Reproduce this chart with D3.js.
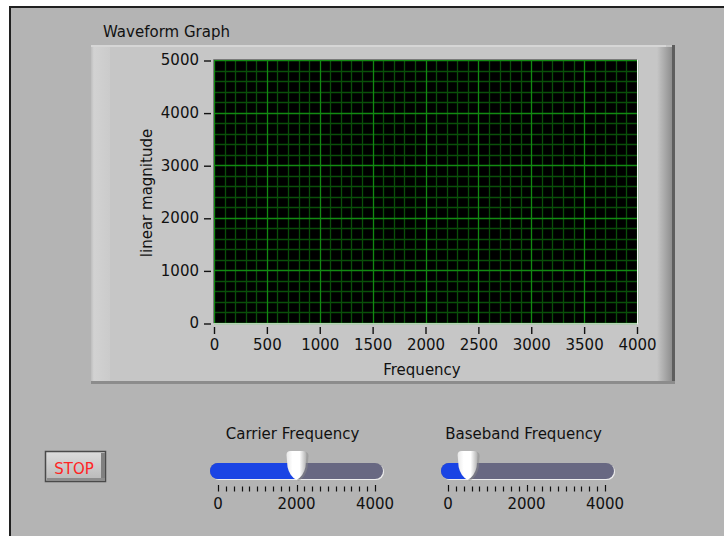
<!DOCTYPE html>
<html>
<head>
<meta charset="utf-8">
<script src="https://cdn.jsdelivr.net/npm/d3@7"></script>
<style>
  html, body { margin: 0; padding: 0; background: #fff; }
  svg { display: block; }
  text { font-family: "DejaVu Sans", sans-serif; font-size: 15px; fill: #111; }
</style>
</head>
<body>
<div id="panel"></div>
<script>
// graph axes
var xDomain = [0, 4000]
var yDomain = [0, 5000]
var xTicks = [0, 500, 1000, 1500, 2000, 2500, 3000, 3500, 4000]
var yTicks = [0, 1000, 2000, 3000, 4000, 5000]
var xMinorStep = 100
var yMinorStep = 200
var graphTitle = "Waveform Graph"
var xLabel = "Frequency"
var yLabel = "linear magnitude"

// sliders
var sliderNames = ["Carrier Frequency", "Baseband Frequency"]
var sliderValues = [2000, 500]
var sliderDomain = [0, 4000]
var sliderLabels = [0, 2000, 4000]
var sliderMinorStep = 200
var stopText = "STOP"

var W = 724, H = 536
var svg = d3.select("#panel").append("svg")
	.attr("width", W)
	.attr("height", H)
var defs = svg.append("defs")

// panel background + border
svg.append("rect").attr("x", 9).attr("y", 6).attr("width", W).attr("height", H).style("fill", "#202020")
svg.append("rect").attr("x", 11).attr("y", 8).attr("width", W).attr("height", H).style("fill", "#b4b4b4")

//graph frame
var rg = defs.append("linearGradient").attr("id", "frameRight")
	.attr("x1", "0%").attr("x2", "100%").attr("y1", "0%").attr("y2", "0%")
rg.append("stop").attr("offset", "0%").attr("stop-color", "#c6c6c6")
rg.append("stop").attr("offset", "100%").attr("stop-color", "#8e8e8e")
var lg = defs.append("linearGradient").attr("id", "frameLeft")
	.attr("x1", "0%").attr("x2", "100%").attr("y1", "0%").attr("y2", "0%")
lg.append("stop").attr("offset", "0%").attr("stop-color", "#bdbdbd")
lg.append("stop").attr("offset", "15%").attr("stop-color", "#d2d2d2")
lg.append("stop").attr("offset", "100%").attr("stop-color", "#cbcbcb")

var frame = svg.append("g")
frame.append("rect").attr("x", 91).attr("y", 45).attr("width", 584).attr("height", 339).style("fill", "#c6c6c6")
frame.append("rect").attr("x", 91).attr("y", 45).attr("width", 19).attr("height", 337).style("fill", "url(#frameLeft)")
frame.append("rect").attr("x", 91).attr("y", 45).attr("width", 575).attr("height", 2).style("fill", "#d6d6d6")
frame.append("rect").attr("x", 657).attr("y", 47).attr("width", 15).attr("height", 335).style("fill", "url(#frameRight)")
frame.append("rect").attr("x", 672).attr("y", 45).attr("width", 3).attr("height", 339).style("fill", "#5e5e5e")
frame.append("rect").attr("x", 91).attr("y", 381).attr("width", 584).attr("height", 3).style("fill", "#8c8c8c")

svg.append("text").attr("x", 103).attr("y", 37).text(graphTitle)

// plot area
var x = d3.scaleLinear().domain(xDomain).range([214, 637])
var y = d3.scaleLinear().domain(yDomain).range([323, 60])

var plot = svg.append("g")
plot.append("rect")
	.attr("x", x(xDomain[0])).attr("y", y(yDomain[1]))
	.attr("width", x(xDomain[1]) - x(xDomain[0]))
	.attr("height", y(yDomain[0]) - y(yDomain[1]))
	.style("fill", "#000")

var xMinor = d3.range(xDomain[0], xDomain[1] + 1, xMinorStep).filter(function (d) { return xTicks.indexOf(d) < 0 })
var yMinor = d3.range(yDomain[0], yDomain[1] + 1, yMinorStep).filter(function (d) { return yTicks.indexOf(d) < 0 })

plot.selectAll(".xminor").data(xMinor).enter().append("line")
	.attr("x1", function (d) { return Math.round(x(d)) + 0.5 })
	.attr("x2", function (d) { return Math.round(x(d)) + 0.5 })
	.attr("y1", y(yDomain[1])).attr("y2", y(yDomain[0]))
	.style("stroke", "#0a4f0a").style("stroke-width", 1.3)
plot.selectAll(".yminor").data(yMinor).enter().append("line")
	.attr("y1", function (d) { return Math.round(y(d)) + 0.5 })
	.attr("y2", function (d) { return Math.round(y(d)) + 0.5 })
	.attr("x1", x(xDomain[0])).attr("x2", x(xDomain[1]))
	.style("stroke", "#0a4f0a").style("stroke-width", 1.3)
plot.selectAll(".xmajor").data(xTicks).enter().append("line")
	.attr("x1", function (d) { return Math.round(x(d)) + 0.5 })
	.attr("x2", function (d) { return Math.round(x(d)) + 0.5 })
	.attr("y1", y(yDomain[1])).attr("y2", y(yDomain[0]))
	.style("stroke", "#128a12").style("stroke-width", 1.3)
plot.selectAll(".ymajor").data(yTicks).enter().append("line")
	.attr("y1", function (d) { return Math.round(y(d)) + 0.5 })
	.attr("y2", function (d) { return Math.round(y(d)) + 0.5 })
	.attr("x1", x(xDomain[0])).attr("x2", x(xDomain[1]))
	.style("stroke", "#128a12").style("stroke-width", 1.3)

// inset border of the plot
plot.append("line").attr("x1", 213.5).attr("x2", 213.5).attr("y1", 59.5).attr("y2", 323.5).style("stroke", "#7a7a7a")
plot.append("line").attr("x1", 213.5).attr("x2", 637.5).attr("y1", 59.5).attr("y2", 59.5).style("stroke", "#7a7a7a")
plot.append("line").attr("x1", 637.5).attr("x2", 637.5).attr("y1", 59.5).attr("y2", 324).style("stroke", "#f4f4f4")
plot.append("line").attr("x1", 213.5).attr("x2", 638).attr("y1", 323.8).attr("y2", 323.8).style("stroke", "#f4f4f4")

// axes
var xAxis = svg.append("g")
	.attr("transform", "translate(0,327)")
	.call(d3.axisBottom(x).tickValues(xTicks).tickSize(7).tickPadding(5).tickFormat(d3.format("d")))
var yAxis = svg.append("g")
	.attr("transform", "translate(211,0)")
	.call(d3.axisLeft(y).tickValues(yTicks).tickSize(7).tickPadding(5).tickFormat(d3.format("d")))
svg.selectAll(".domain").remove()
svg.selectAll(".tick line").style("stroke", "#111").style("stroke-width", 1.4)
svg.selectAll(".tick text").style("font-family", "DejaVu Sans").style("font-size", "15px").style("fill", "#111")
yAxis.selectAll(".tick line").attr("transform", "translate(0,0.5)")

svg.append("text").attr("x", 422).attr("y", 375).style("text-anchor", "middle").text(xLabel)
svg.append("text").attr("transform", "translate(152,193) rotate(-90)").style("text-anchor", "middle").text(yLabel)

// sliders
var thumbGrad = defs.append("linearGradient").attr("id", "thumbGrad")
	.attr("x1", "0%").attr("x2", "100%").attr("y1", "0%").attr("y2", "0%")
thumbGrad.append("stop").attr("offset", "0%").attr("stop-color", "#e8e8e8")
thumbGrad.append("stop").attr("offset", "30%").attr("stop-color", "#ffffff")
thumbGrad.append("stop").attr("offset", "65%").attr("stop-color", "#ffffff")
thumbGrad.append("stop").attr("offset", "100%").attr("stop-color", "#b0b0b0")

var sliderLeft = [210, 441]
var scaleStart = [218, 448]
var scaleWidth = 157
var trackWidth = 173

sliderNames.forEach(function (name, i) {
	var s = d3.scaleLinear().domain(sliderDomain).range([scaleStart[i], scaleStart[i] + scaleWidth])
	var g = svg.append("g")
	var cx = s(sliderValues[i])
	var tx = sliderLeft[i]

	g.append("text").attr("x", tx + trackWidth / 2 - 4).attr("y", 439).style("text-anchor", "middle").text(name)

	defs.append("clipPath").attr("id", "fillClip" + i)
		.append("rect").attr("x", tx).attr("y", 455).attr("width", cx - tx).attr("height", 30)

	g.append("rect").attr("x", tx + 1).attr("y", 464).attr("width", trackWidth).attr("height", 16)
		.attr("rx", 8).style("fill", "#eeeeee")
	g.append("rect").attr("x", tx).attr("y", 463).attr("width", trackWidth).attr("height", 16)
		.attr("rx", 8).style("fill", "#686882")
	g.append("rect").attr("x", tx).attr("y", 463).attr("width", trackWidth).attr("height", 16)
		.attr("rx", 8).style("fill", "#1a44e4").attr("clip-path", "url(#fillClip" + i + ")")

	// thumb
	var thumb = "M" + (cx - 10) + ",455 Q" + (cx - 10) + ",451 " + (cx - 6) + ",451 L" + (cx + 6) + ",451 Q" + (cx + 10) + ",451 " + (cx + 10) + ",455 L" + (cx + 9) + ",467 Q" + (cx + 7) + ",476 " + cx + ",480 Q" + (cx - 7) + ",476 " + (cx - 9) + ",467 Z"
	g.append("path").attr("d", thumb).attr("transform", "translate(2,1)").style("fill", "#8a8a8a").style("opacity", 0.5)
	g.append("path").attr("d", thumb).style("fill", "url(#thumbGrad)")

	// scale
	var minor = d3.range(sliderDomain[0], sliderDomain[1] + 1, sliderMinorStep)
	g.selectAll(".stick").data(minor).enter().append("line")
		.attr("x1", function (d) { return Math.round(s(d)) + 0.5 })
		.attr("x2", function (d) { return Math.round(s(d)) + 0.5 })
		.attr("y1", function (d) { return sliderLabels.indexOf(d) >= 0 ? 485 : 486.5 })
		.attr("y2", 491.5)
		.style("stroke", "#111").style("stroke-width", 1.2)
	g.selectAll(".slab").data(sliderLabels).enter().append("text")
		.attr("x", function (d) { return s(d) })
		.attr("y", 509)
		.style("text-anchor", "middle")
		.text(function (d) { return d })
})

// stop button
var btnGrad = defs.append("linearGradient").attr("id", "btnGrad")
	.attr("x1", "0%").attr("x2", "0%").attr("y1", "0%").attr("y2", "100%")
btnGrad.append("stop").attr("offset", "0%").attr("stop-color", "#dcdcdc")
btnGrad.append("stop").attr("offset", "100%").attr("stop-color", "#b8b8b8")
var btn = svg.append("g")
btn.append("rect").attr("x", 45.5).attr("y", 451.5).attr("width", 60).attr("height", 30)
	.style("fill", "url(#btnGrad)").style("stroke", "#4a4a4a").style("stroke-width", 1.5)
btn.append("rect").attr("x", 101).attr("y", 453).attr("width", 4).attr("height", 28).style("fill", "#808080")
btn.append("rect").attr("x", 47).attr("y", 478).attr("width", 58).attr("height", 3).style("fill", "#8c8c8c")
btn.append("text").attr("x", 74).attr("y", 474).style("text-anchor", "middle")
	.style("fill", "#ff2424").style("font-size", "15px").text(stopText)
</script>
</body>
</html>
